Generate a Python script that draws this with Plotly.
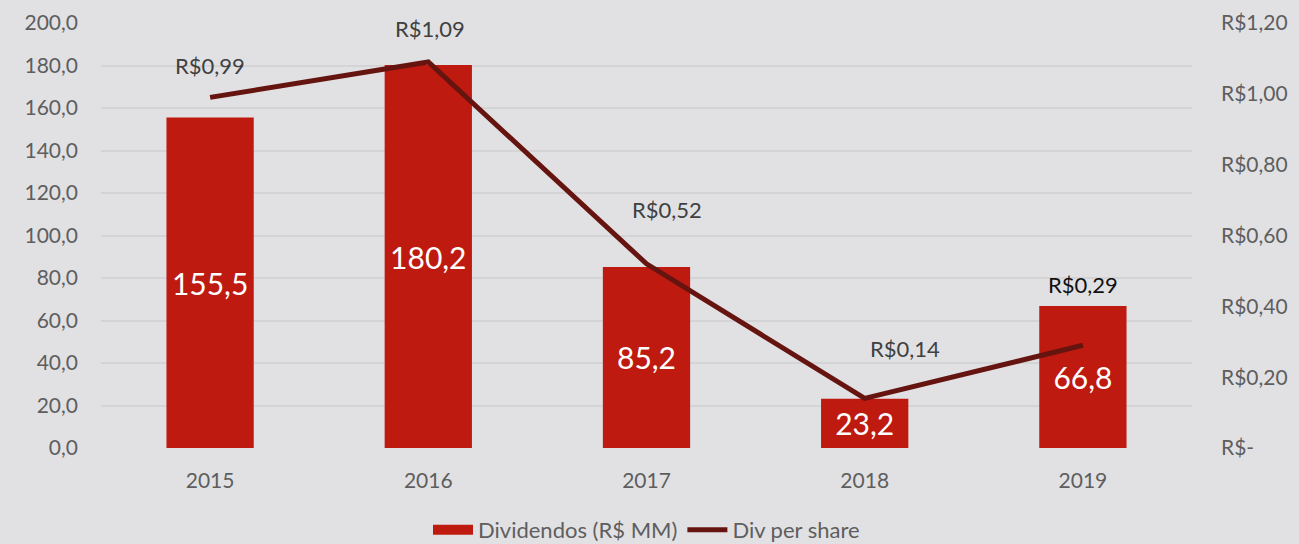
import plotly.graph_objects as go

years = ["2015", "2016", "2017", "2018", "2019"]
dividendos = [155.5, 180.2, 85.2, 23.2, 66.8]
div_per_share = [0.99, 1.09, 0.52, 0.14, 0.29]
share_labels = ["R$0,99", "R$1,09", "R$0,52", "R$0,14", "R$0,29"]
left_ticks = [0, 20, 40, 60, 80, 100, 120, 140, 160, 180, 200]
right_ticks = [0, 0.2, 0.4, 0.6, 0.8, 1.0, 1.2]
right_ticktext = ["R$-", "R$0,20", "R$0,40", "R$0,60", "R$0,80", "R$1,00", "R$1,20"]
label_shifts = [(0, 32), (2, 33), (20, 54), (40, 50), (0, 61)]
label_colors = ["#404040", "#404040", "#404040", "#404040", "#111111"]

FONT = "Lato, 'Noto Sans', sans-serif"
GRAY = "#5E5E5E"
BAR = "#BE1A0F"
LINE = "#661410"

fig = go.Figure()
fig.add_trace(go.Bar(
    x=years, y=dividendos, name="Dividendos (R$ MM)", showlegend=False,
    marker=dict(color=BAR, line=dict(width=0)),
    width=0.4,
    text=[f"{v:.1f}".replace(".", ",") for v in dividendos],
    textposition="inside", insidetextanchor="middle",
    textfont=dict(color="white", size=30, family=FONT),
    hoverinfo="skip",
))
# legend proxy for the bars (wide rectangle swatch)
fig.add_trace(go.Scatter(
    x=[None], y=[None], name="Dividendos (R$ MM)", mode="lines",
    line=dict(color=BAR, width=13), hoverinfo="skip",
))
fig.add_trace(go.Scatter(
    x=years, y=div_per_share, name="Div per share", yaxis="y2",
    mode="lines", line=dict(color=LINE, width=5),
    hoverinfo="skip",
))

for i, (v, lab, (dx, dy), c) in enumerate(zip(div_per_share, share_labels, label_shifts, label_colors)):
    fig.add_annotation(x=i, y=v, xref="x", yref="y2", text=lab, showarrow=False,
                       xshift=dx, yshift=dy,
                       font=dict(size=22, color=c, family=FONT))

fig.update_layout(
    width=1299, height=544,
    paper_bgcolor="#E1E1E4", plot_bgcolor="#E1E1E4",
    margin=dict(l=101, r=107, t=23, b=96, autoexpand=False),
    separators=",.",
    font=dict(family=FONT, color=GRAY, size=21),
    showlegend=True,
    legend=dict(orientation="h", x=0.5, xanchor="center", y=-0.193, yanchor="middle",
                font=dict(size=22, color=GRAY), bgcolor="rgba(0,0,0,0)",
                itemwidth=40),
    xaxis=dict(type="category", range=[-0.5, len(years) - 0.5], showgrid=False,
               showline=False, ticks="", ticklabelstandoff=18, automargin=False,
               tickfont=dict(size=21, color=GRAY)),
    yaxis=dict(range=[0, 200], tickvals=left_ticks, tickformat=".1f",
               showgrid=True, gridcolor="#D4D4D7", gridwidth=1.5, zeroline=False,
               showline=False, ticks="", ticklabelstandoff=22, automargin=False,
               tickfont=dict(size=21, color=GRAY)),
    yaxis2=dict(range=[0, 1.2], overlaying="y", side="right", tickvals=right_ticks,
                ticktext=right_ticktext, showgrid=False, zeroline=False,
                showline=False, ticks="", ticklabelstandoff=28, automargin=False,
                tickfont=dict(size=21, color=GRAY)),
)

fig.write_html("out.html", config={"displayModeBar": False},
               post_script="document.body.style.margin='0';")
